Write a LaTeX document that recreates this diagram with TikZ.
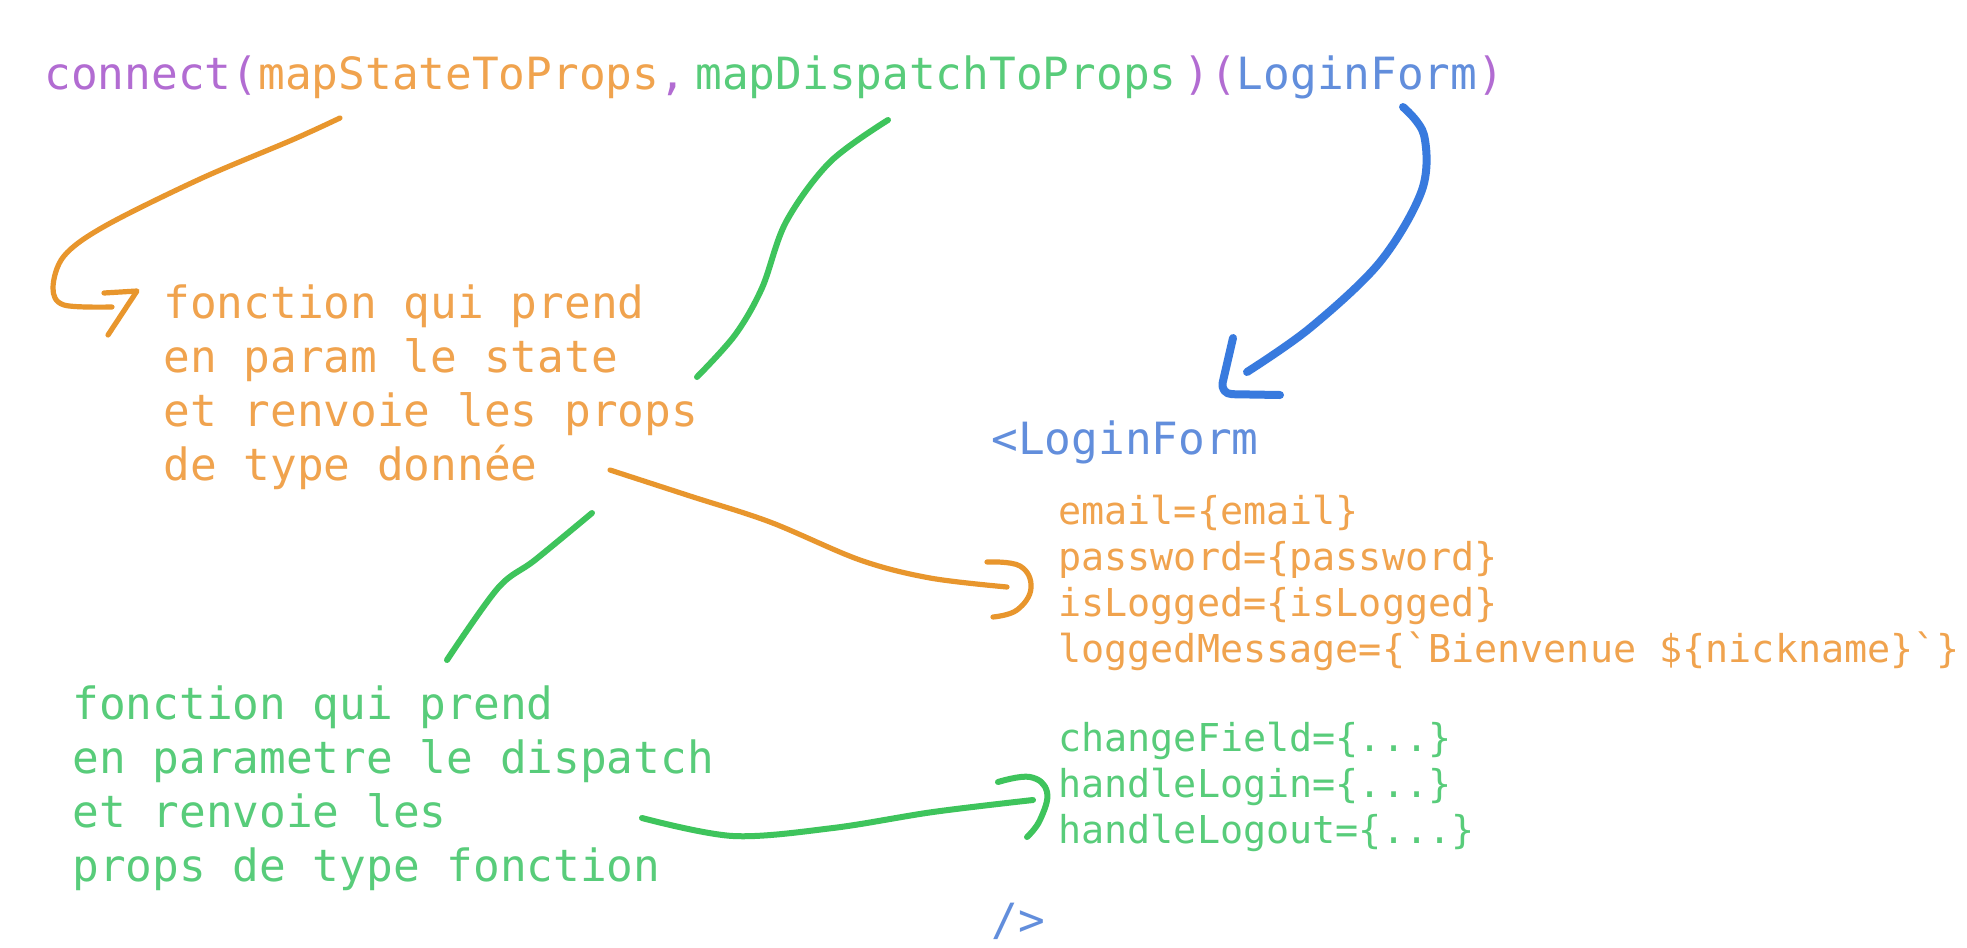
\documentclass[tikz,border=0pt]{standalone}
\usepackage{fontspec}
\setmonofont{DejaVu Sans Mono}
\usetikzlibrary{positioning}

\definecolor{callpurple}{RGB}{178,108,210}
\definecolor{textorange}{RGB}{240,163,78}
\definecolor{textgreen}{RGB}{88,204,122}
\definecolor{textblue}{RGB}{98,142,220}
\definecolor{inkorange}{RGB}{232,150,45}
\definecolor{inkgreen}{RGB}{62,196,92}
\definecolor{inkblue}{RGB}{56,122,222}
\newcommand{\codedots}{...}

\begin{document}
\begin{tikzpicture}[x=0.5pt,y=-0.5pt]
  % Styles local to this figure.
  \tikzset{
    code/.style={font=\ttfamily\fontsize{22.2}{27}\selectfont,inner sep=0pt,anchor=base west},
    smallcode/.style={font=\ttfamily\fontsize{19.2}{23}\selectfont,inner sep=0pt,anchor=base west},
    ink/.style={line cap=round,line join=round},
    ostroke/.style={ink,draw=inkorange,line width=2.6pt},
    gstroke/.style={ink,draw=inkgreen,line width=3pt},
    bstroke/.style={ink,draw=inkblue,line width=4pt}
  }
  \fill[white] (0,0) rectangle (1967,948);
  \useasboundingbox (0,0) rectangle (1967,948);

  % The connect call on top.
  \node[code,text=callpurple] (connect) at (44,89) {connect(};
  \node[code,text=textorange] (mstp) at (258,89) {mapStateToProps\textcolor{callpurple}{,}};
  \node[code,text=textgreen] (mdtp) at (695,89) {mapDispatchToProps};
  \node[code,text=callpurple] (comp) at (1183,89) {)(\textcolor{textblue}{LoginForm})};

  % Explanations.
  \foreach \t [count=\i from 0] in {fonction qui prend, en param le state,
      et renvoie les props, de type donnée}
    \node[code,text=textorange] (state\i) at (163,318+54*\i) {\t};
  \foreach \t [count=\i from 0] in {fonction qui prend, en parametre le dispatch,
      et renvoie les, props de type fonction}
    \node[code,text=textgreen] (dispatch\i) at (72,719+54*\i) {\t};

  % The rendered component and its props.
  \node[code,text=textblue] (open) at (991,454) {<LoginForm};
  \foreach \t [count=\i from 0] in {email=\{email\}, password=\{password\},
      isLogged=\{isLogged\}, loggedMessage=\{`Bienvenue \$\{nickname\}`\}}
    \node[smallcode,text=textorange] (dprop\i) at (1058,524+46*\i) {\t};
  \foreach \t [count=\i from 0] in {changeField=\{\codedots\}, handleLogin=\{\codedots\},
      handleLogout=\{\codedots\}}
    \node[smallcode,text=textgreen] (fprop\i) at (1058,751+46*\i) {\t};
  \node[code,text=textblue] (close) at (991,935) {/>};

  % Hand drawn strokes.
  \coordinate (stateFrom) at (340,118);
  \coordinate (stateTo) at (112,307);
  \draw[ostroke] plot[smooth,tension=0.55] coordinates {(stateFrom) (292,140)
    (200,179) (105,226) (64,256) (53,288) (64,305) (stateTo)};
  \draw[ostroke] (104,293) -- (137,291) -- (108,335);

  \coordinate (dispFrom) at (888,120);
  \coordinate (dispTo) at (447,660);
  \draw[gstroke] plot[smooth,tension=0.55] coordinates {(dispFrom) (830,162)
    (786,222) (762,288) (735,335) (697,377)};
  \draw[gstroke] plot[smooth,tension=0.55] coordinates {(592,513) (535,560)
    (498,588) (dispTo)};

  \coordinate (compFrom) at (1403,107);
  \coordinate (compTo) at (1247,372);
  \draw[bstroke] plot[smooth,tension=0.55] coordinates {(compFrom) (1424,135)
    (1422,190) (1380,262) (1310,328) (compTo)};
  \draw[bstroke,rounded corners=6] (1233,338) -- (1220,394) -- (1280,395);

  \coordinate (dataFrom) at (610,470);
  \coordinate (dataTo) at (1007,587);
  \draw[ostroke] plot[smooth,tension=0.55] coordinates {(dataFrom) (690,496)
    (770,522) (860,560) (930,578) (dataTo)};
  \draw[ostroke] plot[smooth,tension=0.7] coordinates {(987,562) (1020,566)
    (1031,588) (1017,610) (993,617)};

  \coordinate (funcFrom) at (642,818);
  \coordinate (funcTo) at (1033,800);
  \draw[gstroke] plot[smooth,tension=0.55] coordinates {(funcFrom) (733,836)
    (833,828) (933,812) (funcTo)};
  \draw[gstroke] plot[smooth,tension=0.7] coordinates {(998,782) (1030,777)
    (1047,792) (1040,820) (1027,837)};
\end{tikzpicture}
\end{document}
